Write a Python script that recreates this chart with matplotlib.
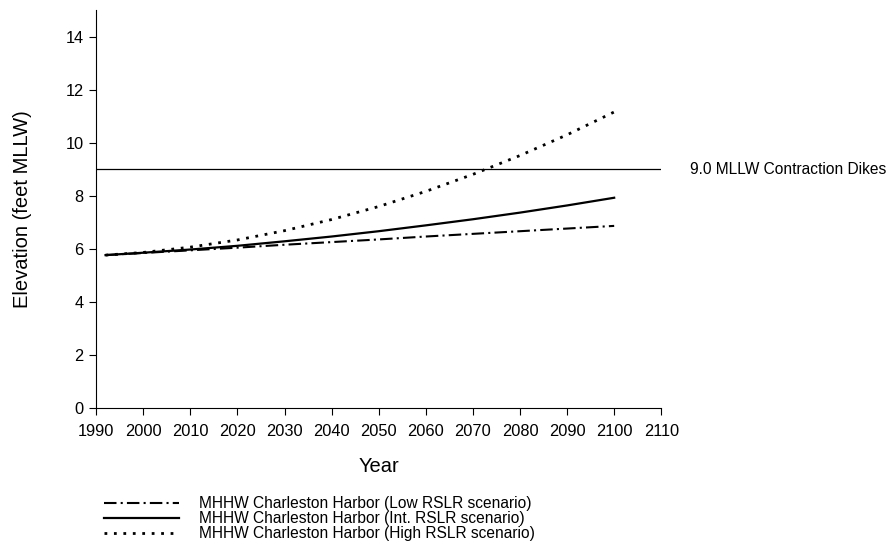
import matplotlib
matplotlib.use('Agg')
import matplotlib.pyplot as plt

# values (feet MLLW)
years = [1992, 2000, 2010, 2020, 2030, 2040, 2050, 2060, 2070, 2080, 2090, 2100]
low_rslr = [5.77, 5.85, 5.95, 6.05, 6.16, 6.26, 6.36, 6.47, 6.57, 6.67, 6.77, 6.87]
int_rslr = [5.77, 5.86, 5.98, 6.12, 6.29, 6.47, 6.67, 6.89, 7.12, 7.37, 7.64, 7.93]
high_rslr = [5.77, 5.87, 6.07, 6.34, 6.69, 7.11, 7.60, 8.17, 8.81, 9.52, 10.30, 11.16]

dike_level = 9.0
dike_label = '9.0 MLLW Contraction Dikes'
labels = ['MHHW Charleston Harbor (Low RSLR scenario)',
          'MHHW Charleston Harbor (Int. RSLR scenario)',
          'MHHW Charleston Harbor (High RSLR scenario)']

plt.rcParams['font.family'] = ['Liberation Sans', 'DejaVu Sans']

fig = plt.figure(figsize=(8.9, 5.44), dpi=100)
ax = fig.add_axes([0.108, 0.2494, 0.635, 0.7322])

#dike elevation line + its label outside the axes
ax.axhline(dike_level, color='black', lw=0.9)
ax.text(1.05, dike_level, dike_label, transform=ax.get_yaxis_transform(),
        va='center', ha='left', fontsize=11.2)

l1, = ax.plot(years, low_rslr, color='black', lw=1.5, linestyle=(0, (6, 2, 1, 2)))
l2, = ax.plot(years, int_rslr, color='black', lw=1.6, linestyle='-')
l3, = ax.plot(years, high_rslr, color='black', lw=2.0, linestyle=(0, (1, 2.4)))

ax.set_xlim(1990, 2110)
ax.set_ylim(0, 15)
ax.set_xticks(range(1990, 2111, 10))
ax.set_yticks(range(0, 15, 2))
ax.spines['top'].set_visible(False)
ax.spines['right'].set_visible(False)
ax.tick_params(direction='out', length=5, width=0.8, labelsize=11.8)
ax.tick_params(axis='x', pad=6)
ax.tick_params(axis='y', pad=4)

ax.set_xlabel('Year', fontsize=14.5, labelpad=13)
ax.set_ylabel('Elevation (feet MLLW)', fontsize=14.5, labelpad=24)

fig.legend([l1, l2, l3], labels, loc='upper left',
           bbox_to_anchor=(0.117, 0.088), frameon=False, fontsize=11.2,
           handlelength=4.8, handletextpad=1.3, labelspacing=0.0,
           borderaxespad=0, borderpad=0)

fig.savefig('out.png', dpi=100)
